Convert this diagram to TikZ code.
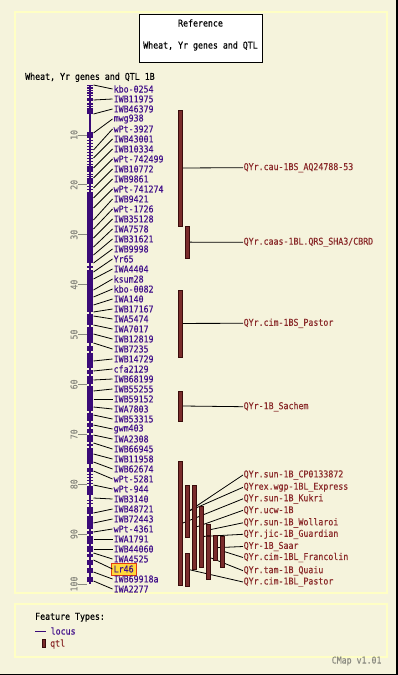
\documentclass[tikz,border=0pt]{standalone}
\usepackage{fontspec}
\newfontfamily\pxfont[FakeStretch=0.88,FakeBold=0.35]{DejaVu Sans Mono}
\definecolor{bg}{HTML}{F5F3DC}
\definecolor{panelline}{HTML}{FFFFC4}
\definecolor{chrom}{HTML}{3A0A78}
\definecolor{mtext}{HTML}{42108A}
\definecolor{qtlfill}{HTML}{7A2C2C}
\definecolor{qtlline}{HTML}{3A0C0C}
\definecolor{qtext}{HTML}{8A2A2A}
\definecolor{tickgray}{HTML}{8A8A80}
\definecolor{hlfill}{HTML}{FFD83A}
\definecolor{hlline}{HTML}{E03A10}
\tikzset{
  txt/.style={font=\pxfont\fontsize{9.4bp}{11bp}\selectfont, inner sep=0pt},
  mk/.style={txt, text=mtext, anchor=west},
  ql/.style={txt, text=qtext, anchor=west},
  conn/.style={draw=black, line width=0.8bp},
  qbar/.style={fill=qtlfill, draw=qtlline, line width=0.6bp},
  qslot/.style={minimum width=3.4bp, inner sep=0pt, anchor=north west},
  tickline/.style={draw=tickgray, line width=0.8bp},
  ticklab/.style={txt, text=tickgray, rotate=90},
  panel/.style={draw=panelline, line width=2.5bp},
}
\begin{document}
\begin{tikzpicture}[x=1bp, y=-1bp]
\useasboundingbox (0,0) rectangle (397,675);
\fill[bg] (0,0) rectangle (397,675);
\draw[black, line width=1.5bp] (397,0) -- (397,675) -- (0,675);
% panels
\draw[panel] (15,12) rectangle (387,593);
\draw[panel] (15,604) rectangle (387,657);
% title box
\node[draw=black, fill=white, line width=0.8bp, minimum width=123bp, minimum height=48bp, inner sep=0pt] (titlebox) at (200.5,38) {};
\node[txt] (tref) at (200.5,23) {Reference};
\node[txt] (tname) at (200.5,46) {Wheat, Yr genes and QTL};
\node[txt, anchor=west] (maptitle) at (25,77.3) {Wheat, Yr genes and QTL 1B};
% chromosome
\draw[chrom, line width=2bp] (90.3,85) -- (90.3,584);
\foreach \ya/\yb in {98/101,108/114,132/138,166/172,178/184,192/263,266/268,270/312,314/325,327/343,346/351,353/368,370/374,376/384,386/411,413/421,423/427,429/433,435/442,444/446,448/464,468/472,487/495,507/514,516/529,531/534,536/544,546/552,554/557,560/565,568/573,577/582}
  \fill[chrom] (87.3,\ya) rectangle (93.3,\yb);
\foreach \y in {85,87.5,90,92.5,95,103.5,106,140,143,146,149,152,155,158,161,164,174,176,186,189,474,477,480,483,486,500,503}
  \fill[chrom] (87.3,\y) rectangle (93.3,\y+1.2);
% scale ticks
\foreach \v in {10,20,...,100}{
  \draw[tickline] (78,85+4.99*\v) -- (87,85+4.99*\v);
  \node[ticklab] at (74,85+4.99*\v) {\v};
}
% highlight for Lr46
\draw[fill=hlfill, draw=hlline, line width=0.8bp] (111.5,563) rectangle (136.5,575);
% markers
\foreach \lab/\yb [count=\i] in {kbo-0254/85,IWB11975/100,IWB46379/114,mwg938/133,wPt-3927/150,IWB43001/158,IWB10334/168,wPt-742499/178,IWB10772/188,IWB9861/198,wPt-741274/208,IWB9421/220,wPt-1726/229,IWB35128/238,IWA7578/247,IWB31621/255,IWB9998/263,Yr65/272,IWA4404/279,ksum28/290,kbo-0082/297,IWA140/305,IWB17167/312,IWA5474/316,IWA7017/325,IWB12819/334,IWB7235/343,IWB14729/361,cfa2129/371,IWB68199/380,IWB55255/391,IWB59152/399,IWA7803/407,IWB53315/415,gwm403/425,IWA2308/435,IWB66945/443,IWB11958/454,IWB62674/462,wPt-5281/471,wPt-944/485,IWB3140/498,IWB48721/513,IWB72443/523,wPt-4361/532,IWA1791/539,IWB44060/549,IWA4525/553,Lr46/560,IWB69918a/572,IWA2277/581}{
  \coordinate (b\i) at (93.5,\yb);
  \node[mk] (m\i) at (113.5,{89+10*(\i-1)}) {\lab};
  \draw[conn] (b\i) -- ([xshift=-1bp]m\i.west);
}
% QTL slots (positions)
\foreach \nm/\xl/\ya/\yb in {q1/178.3/110/226, q2/185.3/226/258, q3/178.3/290/356.7, q4/178.3/391/420.7,
  qa/178.3/461/585.7, qb/185.3/485/536.7, qbb/185.3/485/536.7, qc/192.3/485/569, qd/199.3/506/566.7, qe/206.3/524/535,
  qf/206.3/536/579, qg/213.3/535/560, qh/220.3/536/566.7, qi/185.3/553.3/585.7}{
  \node[qslot, minimum height={\yb-\ya}] (\nm) at (\xl,\ya) {};
}
% QTL labels
\foreach \nm/\lab/\y in {l1/QYr.cau-1BS\_AQ24788-53/167.7, l2/QYr.caas-1BL.QRS\_SHA3\slash CBRD/242.3, l3/QYr.cim-1BS\_Pastor/323.3, l4/QYr-1B\_Sachem/406.7,
  la/QYr.sun-1B\_CP0133872/475, lb/QYrex.wgp-1BL\_Express/487.3, lc/QYr.sun-1B\_Kukri/498.8, ld/QYr.ucw-1B/510.3, le/QYr.sun-1B\_Wollaroi/522.8,
  lf/QYr.jic-1B\_Guardian/534.3, lg/QYr-1B\_Saar/546.5, lh/QYr.cim-1BL\_Francolin/557.5, li/QYr.tam-1B\_Quaiu/570.7, lj/QYr.cim-1BL\_Pastor/582}{
  \node[ql] (\nm) at (243.5,\y) {\lab};
}
\foreach \q/\l in {q1/l1,q2/l2,q3/l3,q4/l4,qb/la,qbb/lb,qa/lc,qc/ld,qe/le,qd/lf,qg/lg,qh/lh,qf/li,qi/lj}
  \draw[conn] (\q.east) -- ([xshift=-0.5bp]\l.west);
% QTL bars drawn over connectors
\foreach \q in {q1,q2,q3,q4,qa,qb,qbb,qc,qd,qe,qf,qg,qh,qi}
  \draw[qbar] (\q.north west) rectangle (\q.south east);
% legend
\node[txt, anchor=west] (ft) at (35,617.3) {Feature Types:};
\coordinate (loc1) at (35,631);
\coordinate (loc2) at (46,631);
\draw[chrom, line width=1bp] (loc1) -- (loc2);
\node[mk] (loclab) at (50.5,631) {locus};
\node[qbar, minimum width=3.4bp, minimum height=8bp, inner sep=0pt] (qleg) at (44,643.5) {};
\node[ql] (qlab) at (50,644) {qtl};
\node[txt, text=tickgray, anchor=west] (ver) at (331.5,661) {CMap v1.01};
\end{tikzpicture}
\end{document}
